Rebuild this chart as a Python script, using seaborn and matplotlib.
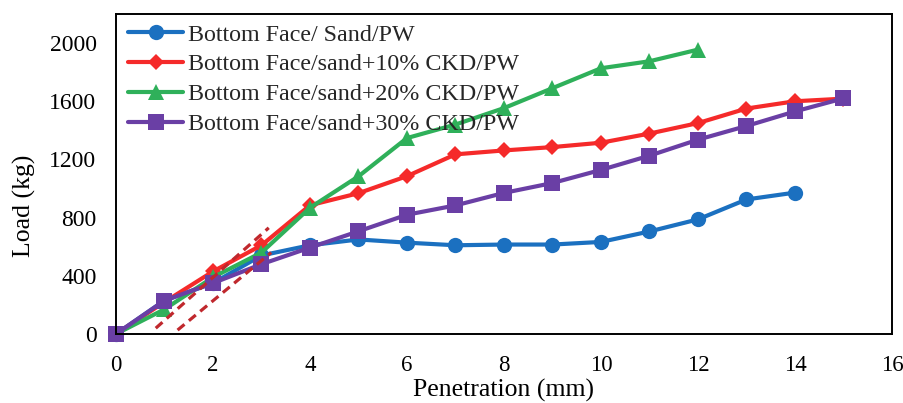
import numpy as np
import pandas as pd
import matplotlib
matplotlib.use("Agg")
import matplotlib.pyplot as plt
import seaborn as sns

pen_sand = [0, 1, 2, 3, 4, 5, 6, 7, 8, 9, 10, 11, 12, 13, 14]
load_sand = [0, 230, 350, 540, 610, 650, 628, 610, 615, 615, 633, 705, 788, 925, 972]
pen_10 = [0, 1, 2, 3, 4, 5, 6, 7, 8, 9, 10, 11, 12, 13, 14, 15]
load_10 = [0, 220, 430, 610, 885, 968, 1085, 1235, 1262, 1285, 1315, 1378, 1450, 1550, 1600, 1618]
pen_20 = [0, 1, 2, 3, 4, 5, 6, 7, 8, 9, 10, 11, 12]
load_20 = [0, 170, 390, 560, 868, 1084, 1347, 1440, 1553, 1690, 1827, 1875, 1955]
pen_30 = [0, 1, 2, 3, 4, 5, 6, 7, 8, 9, 10, 11, 12, 13, 14, 15]
load_30 = [0, 230, 350, 480, 594, 706, 820, 884, 970, 1038, 1128, 1226, 1336, 1430, 1530, 1620]

labels = ["Bottom Face/ Sand/PW", "Bottom Face/sand+10% CKD/PW",
          "Bottom Face/sand+20% CKD/PW", "Bottom Face/sand+30% CKD/PW"]

# correction (tangent) lines
tan_a_x = [0.82, 3.15]
tan_a_y = [40, 730]
tan_b_x = [1.27, 3.2]
tan_b_y = [27, 560]

sns.set_theme(style="white")
plt.rcParams['font.family'] = ['Liberation Serif', 'DejaVu Serif']

fig = plt.figure(figsize=(9.04, 4.03), dpi=100)
ax = fig.add_axes([0.1283, 0.1712, 0.8584, 0.7941])

series = [
    (pen_sand, load_sand, labels[0], "#1b70c0", "o", 11),
    (pen_10, load_10, labels[1], "#f52a2a", "D", 8.5),
    (pen_20, load_20, labels[2], "#2fb05a", "^", 11),
    (pen_30, load_30, labels[3], "#6a3fa5", "s", 11.5),
]
for x, y, lab, col, mk, ms in series:
    df = pd.DataFrame({"x": x, "y": y})
    sns.lineplot(data=df, x="x", y="y", ax=ax, color=col, marker=mk,
                 markersize=ms, linewidth=3.0, markeredgewidth=0, label=lab)

ax.plot(tan_a_x, tan_a_y, color="#c0282d", linestyle=(0, (2.8, 1.8)), linewidth=2.3)
ax.plot(tan_b_x, tan_b_y, color="#c0282d", linestyle=(0, (2.8, 1.8)), linewidth=2.3)

ax.set_xlim(0, 16)
ax.set_ylim(0, 2200)
ax.set_xticks(range(0, 17, 2))
ax.set_yticks(range(0, 2001, 400))
ax.tick_params(axis='x', length=0, labelsize=16.5, colors="black", pad=15)
ax.tick_params(axis='y', length=0, labelsize=17, colors="black", pad=14)
ax.set_xlabel("Penetration (mm)", fontsize=18.5, color="black", labelpad=2.5)
ax.set_ylabel("Load (kg)", fontsize=18.5, color="black")
ax.yaxis.set_label_coords(-0.103, 0.40)
for s in ax.spines.values():
    s.set_visible(True)
    s.set_color("black")
    s.set_linewidth(1.4)
for ln in ax.lines:
    ln.set_clip_on(False)

leg = ax.legend(loc="upper left", frameon=False, fontsize=17.3, handlelength=2.3,
                borderaxespad=0.0, labelspacing=0.33, handletextpad=0.2,
                bbox_to_anchor=(0.003, 0.999))

fig.savefig("out.png", dpi=100)
